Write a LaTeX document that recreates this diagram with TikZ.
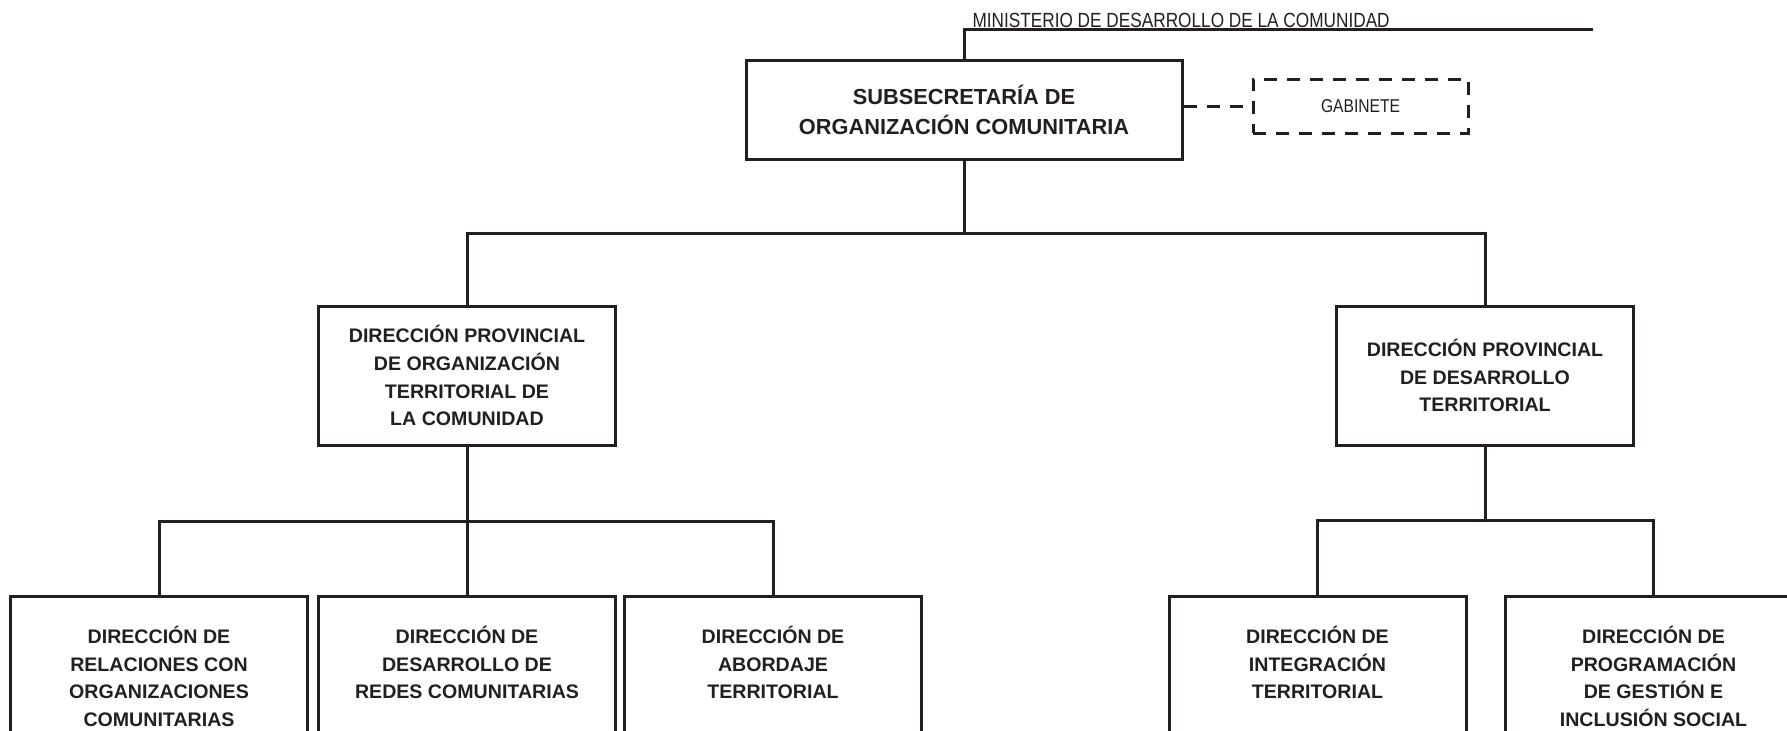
\documentclass[tikz,border=0pt]{standalone}
\usepackage{fontspec}
\setmainfont{Liberation Sans}
\newfontfamily\narrowfont[FakeStretch=0.84]{Liberation Sans}
\usetikzlibrary{positioning}
\definecolor{ink}{RGB}{35,31,32}

\begin{document}
\begin{tikzpicture}[x=0.5pt, y=-0.5pt, line width=1.5pt, ink,
  jefe/.style={draw, minimum width=218pt, minimum height=49.5pt, align=center, font=\fontsize{10.9}{15}\selectfont\bfseries},
  provincial/.style={draw, minimum width=148.5pt, minimum height=69.5pt, align=center, font=\fontsize{9.8}{13.9}\selectfont\bfseries},
  direccion/.style={draw, minimum width=148.5pt, minimum height=76pt, anchor=north},
  rotulo/.style={align=center, inner sep=0pt, font=\fontsize{9.8}{13.9}\selectfont\bfseries},
  enlace/.style={dash pattern=on 6.5pt off 5pt},
  apoyo/.style={draw, enlace, minimum width=107.5pt, minimum height=27pt, font=\narrowfont\fontsize{9.3}{11}\selectfont}]
  \useasboundingbox (0,0) rectangle (1787,730);

  \node (min) [anchor=base west, inner sep=0pt, font=\narrowfont\fontsize{10.25}{12}\selectfont] at (971,27) {MINISTERIO DE DESARROLLO DE LA COMUNIDAD};
  \coordinate (fin) at (1593,29);

  \node (sub) [jefe] at (964,109.5) {SUBSECRETARÍA DE\\ORGANIZACIÓN COMUNITARIA};
  \node (gab) [apoyo] at (1360.5,106) {GABINETE};

  \node (dpl) [provincial] at (467,375.5) {DIRECCIÓN PROVINCIAL\\DE ORGANIZACIÓN\\TERRITORIAL DE\\LA COMUNIDAD};
  \node (dpr) [provincial] at (1485,375.5) {DIRECCIÓN PROVINCIAL\\DE DESARROLLO\\TERRITORIAL};

  \node (d1) [direccion] at (159,594.5) {};
  \node (d2) [direccion] at (467,594.5) {};
  \node (d3) [direccion] at (773,594.5) {};
  \node (d4) [direccion] at (1317.5,594.5) {};
  \node (d5) [direccion] at (1653.5,594.5) {};

  \node (t1) [rotulo, below=15pt of d1.north] {DIRECCIÓN DE\\RELACIONES CON\\ORGANIZACIONES\\COMUNITARIAS};
  \node (t2) [rotulo, below=15pt of d2.north] {DIRECCIÓN DE\\DESARROLLO DE\\REDES COMUNITARIAS};
  \node (t3) [rotulo, below=15pt of d3.north] {DIRECCIÓN DE\\ABORDAJE\\TERRITORIAL};
  \node (t4) [rotulo, below=15pt of d4.north] {DIRECCIÓN DE\\INTEGRACIÓN\\TERRITORIAL};
  \node (t5) [rotulo, below=15pt of d5.north] {DIRECCIÓN DE\\PROGRAMACIÓN\\DE GESTIÓN E\\INCLUSIÓN SOCIAL};

  \coordinate (bus1) at (964,233);
  \coordinate (bus2) at (467,521);
  \coordinate (bus3) at (1485,520);

  \draw (sub.north) |- (fin);
  \draw [enlace] (sub.east |- gab.west) -- (gab.west);
  \draw (sub.south) -- (bus1);
  \draw (dpl.north) |- (bus1) -| (dpr.north);
  \draw (dpl.south) -- (d2.north);
  \draw (d1.north) |- (bus2) -| (d3.north);
  \draw (dpr.south) -- (bus3);
  \draw (d4.north) |- (bus3) -| (d5.north);
\end{tikzpicture}
\end{document}
